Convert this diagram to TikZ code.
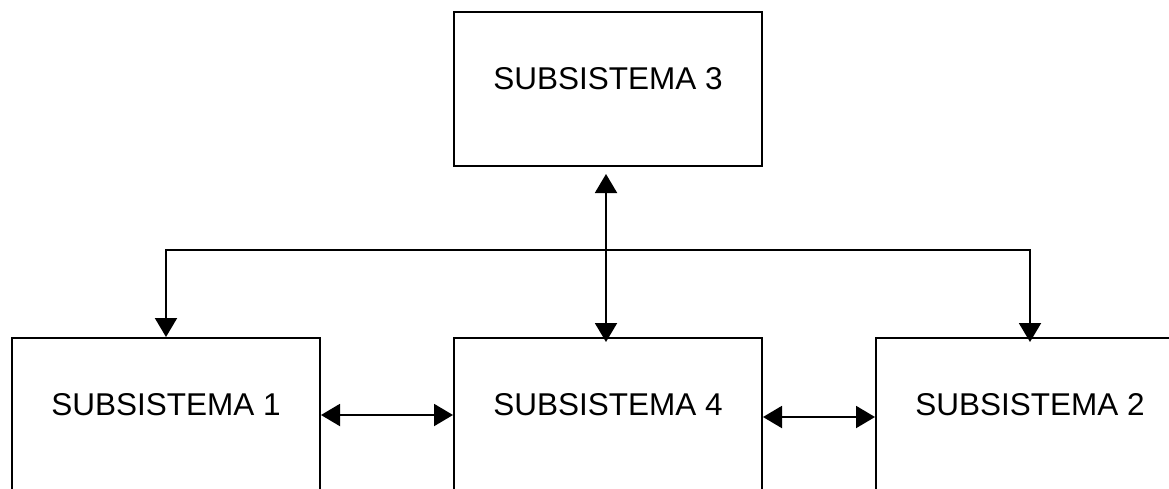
\documentclass[tikz,border=0pt]{standalone}
\usepackage{fontspec}
\setmainfont{Liberation Sans}
\usetikzlibrary{arrows.meta}
\begin{document}
\begin{tikzpicture}[x=1pt,y=-1pt,
  subbox/.style={draw, line width=2pt, minimum width=308pt, minimum height=154pt,
    inner sep=0pt, text height=22pt, text depth=22pt,
    font=\fontsize{31.5}{37}\selectfont},
  conn/.style={line width=2pt, {Triangle[length=19pt,width=22pt]}-{Triangle[length=19pt,width=22pt]}}]
\useasboundingbox (0,0) rectangle (1169,488);
\clip (0,0) rectangle (1169,488);
\node[subbox] (b3) at (608,89) {SUBSISTEMA 3};
\node[subbox] (b1) at (166,415) {SUBSISTEMA 1};
\node[subbox] (b4) at (608,415) {SUBSISTEMA 4};
\node[subbox] (b2) at (1030,415) {SUBSISTEMA 2};
\coordinate (top3) at ([xshift=-2pt]b3.south);
\coordinate (top4) at ([xshift=-2pt]b4.north);
\draw[conn, shorten <=7pt, shorten >=-5pt] (top3) -- (top4);
\draw[conn, shorten >=-5pt] (b1.north) -- (b1.north |- 0,250) -| (b2.north);
\draw[conn] (b1.east) -- (b4.west);
\draw[conn] ([yshift=-2pt]b4.east) -- ([yshift=-2pt]b2.west);
\end{tikzpicture}
\end{document}
